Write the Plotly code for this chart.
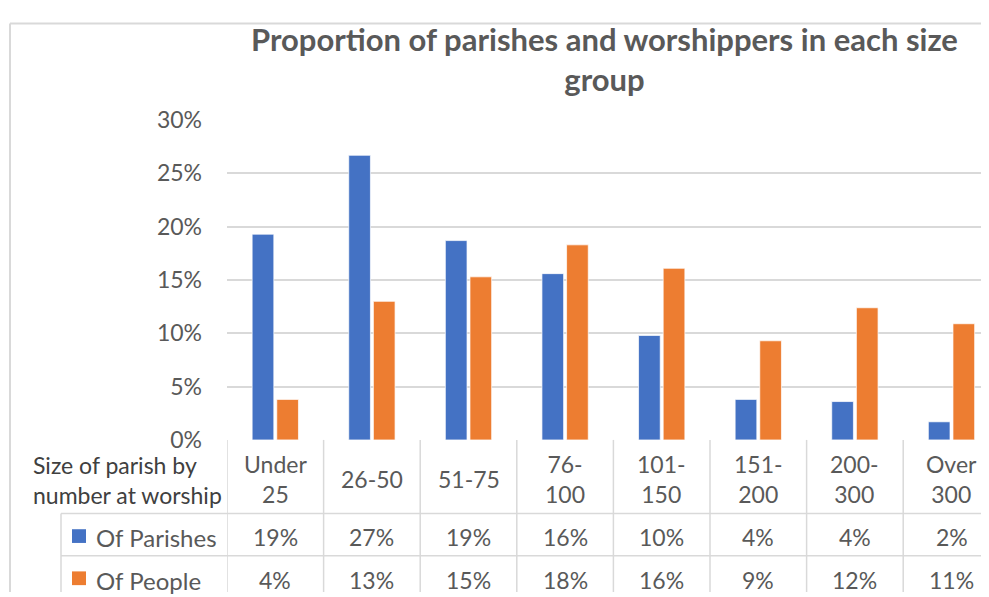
import plotly.graph_objects as go

categories = ["Under 25", "26-50", "51-75", "76-100", "101-150", "151-200", "200-300", "Over 300"]
header_labels = ["Under<br>25", "26-50", "51-75", "76-<br>100", "101-<br>150", "151-<br>200", "200-<br>300", "Over<br>300"]
of_parishes = [19.3, 26.7, 18.7, 15.6, 9.8, 3.8, 3.6, 1.7]
of_people = [3.8, 13.0, 15.3, 18.3, 16.1, 9.3, 12.4, 10.9]
series_names = ["Of Parishes", "Of People"]
y_ticks = [0, 5, 10, 15, 20, 25, 30]
y_tick_text = [f"{v}%" for v in y_ticks]

W, H = 989, 597
BLUE, ORANGE = "#4472C4", "#ED7D31"
GRID = "#D9D9D9"
TXT = "#595959"
FONT = "Lato"

# screen pixel (as photographed) -> paper fraction
Y0, YS, X0 = 17.0, 580.0 / 597.0, 8.0


def px(x):
    return (x - X0) / W


def py(y):
    return 1 - ((y - Y0) / YS) / H


fig = go.Figure()
for name, vals, col in [(series_names[0], of_parishes, BLUE), (series_names[1], of_people, ORANGE)]:
    fig.add_trace(go.Bar(
        x=categories, y=vals, name=name, marker_color=col,
        marker_line=dict(color="rgba(255,255,255,0.7)", width=1),
    ))

col_w = 96.6
plot_left = 227
n_vis = (W - (plot_left - X0)) / col_w

fig.update_layout(
    width=W, height=H,
    margin=dict(l=0, r=0, t=0, b=0),
    paper_bgcolor="white", plot_bgcolor="white",
    barmode="group", bargap=0.49, bargroupgap=0.12,
    showlegend=False,
    font=dict(family=FONT, color=TXT, size=23),
    xaxis=dict(domain=[px(plot_left), 1], type="category", range=[-0.5, -0.5 + n_vis],
               showticklabels=False, showgrid=False, zeroline=False, showline=False, ticks=""),
    yaxis=dict(domain=[py(442), py(116)], range=[0, 30], tickmode="array", tickvals=y_ticks,
               ticktext=y_tick_text,
               showgrid=True, gridcolor=GRID, gridwidth=1.5, zeroline=False, showline=False,
               ticks="", ticklabelstandoff=24, tickfont=dict(family=FONT, size=23, color=TXT)),
)

shapes = []
# outer frame (left and top)
shapes.append(dict(type="line", xref="paper", yref="paper", x0=px(10), x1=px(10), y0=0.999, y1=0,
                   line=dict(color=GRID, width=2)))
shapes.append(dict(type="line", xref="paper", yref="paper", x0=px(10), x1=1, y0=0.999, y1=0.999,
                   line=dict(color=GRID, width=2)))
# table horizontal lines
for yy in [517, 560]:
    shapes.append(dict(type="line", xref="paper", yref="paper", x0=px(61), x1=1, y0=py(yy), y1=py(yy),
                       line=dict(color=GRID, width=1.5)))
# table vertical lines
shapes.append(dict(type="line", xref="paper", yref="paper", x0=px(61), x1=px(61), y0=py(517), y1=0,
                   line=dict(color=GRID, width=1.5)))
for i in range(len(categories)):
    shapes.append(dict(type="line", xref="x", yref="paper", x0=i - 0.5, x1=i - 0.5, y0=py(442), y1=0,
                       line=dict(color=GRID, width=1.5)))
# legend keys
for (y0, col) in [(533, BLUE), (576, ORANGE)]:
    shapes.append(dict(type="rect", xref="paper", yref="paper", x0=px(72), x1=px(86), y0=py(y0 + 14), y1=py(y0),
                       fillcolor=col, line=dict(width=0)))
fig.update_layout(shapes=shapes)

ann = []
ann.append(dict(text="<b>Proportion of parishes and worshippers in each size<br>group</b>",
                xref="paper", yref="paper", x=px(604), y=py(54), xanchor="center", yanchor="middle",
                showarrow=False, font=dict(family=FONT, size=31, color=TXT)))
ann.append(dict(text="Size of parish by<br>number at worship", xref="paper", yref="paper",
                x=px(31), y=py(483), xanchor="left", yanchor="middle", align="left", showarrow=False,
                font=dict(family=FONT, size=23, color="#404040")))
for i, lab in enumerate(header_labels):
    ann.append(dict(text=lab, xref="x", yref="paper", x=i, y=py(482), xanchor="center", yanchor="middle",
                    showarrow=False, font=dict(family=FONT, size=23, color=TXT)))
for name, vals, yc in [(series_names[0], of_parishes, 541), (series_names[1], of_people, 585)]:
    ann.append(dict(text=name, xref="paper", yref="paper", x=px(94), y=py(yc), xanchor="left",
                    yanchor="middle", showarrow=False, font=dict(family=FONT, size=24, color=TXT)))
    for i, v in enumerate(vals):
        ann.append(dict(text=f"{round(v)}%", xref="x", yref="paper", x=i, y=py(yc), xanchor="center",
                        yanchor="middle", showarrow=False, font=dict(family=FONT, size=23, color=TXT)))
fig.update_layout(annotations=ann)

fig.write_html("out.html")
